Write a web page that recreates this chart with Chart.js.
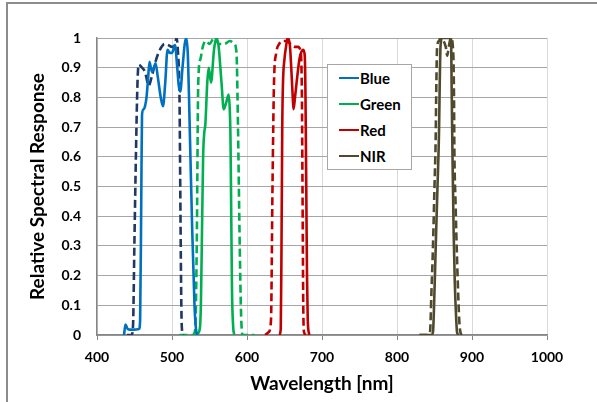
<!DOCTYPE html>
<html>
<head>
<meta charset="utf-8">
<script src="https://cdn.jsdelivr.net/npm/chart.js@4.4.1/dist/chart.umd.min.js"></script>
<style>
  body { margin: 0; background: #fff; }
  #wrap { position: relative; width: 597px; height: 402px; overflow: hidden; }
  #frame { position: absolute; left: 6px; top: 2px; width: 700px; height: 500px;
           border-left: 2px solid #8c8c8c; border-top: 2px solid #8c8c8c; }
  #chart { position: absolute; left: 0; top: 0; }
  #legend { position: absolute; left: 327px; top: 64px; width: 85px; height: 106px;
            background: #fff; border: 1px solid #a6a6a6; box-sizing: border-box;
            font: bold 15px Lato, sans-serif; color: #000; }
  .row { position: absolute; left: 0; height: 20px; display: flex; align-items: center; }
  .sw { width: 20px; height: 2.5px; margin-left: 11px; margin-right: 1px; }
</style>
</head>
<body>
<div id="wrap">
  <div id="frame"></div>
  <canvas id="chart" width="597" height="402"></canvas>
  <div id="legend"></div>
</div>
<script>
// tick labels
const xTickLabels = ['400', '500', '600', '700', '800', '900', '1000'];
const yTickLabels = ['0', '0.1', '0.2', '0.3', '0.4', '0.5', '0.6', '0.7', '0.8', '0.9', '1'];

// series names (legend shows the solid curves only)
const bandNames = ['Blue', 'Green', 'Red', 'NIR'];

// Blue
const blueWl = [436, 438, 441, 444, 450, 456, 457.5, 459, 460, 462, 464, 466, 468, 470, 473, 476, 478, 481, 485, 488, 491, 494, 497, 500, 504, 507, 509, 511, 514, 517, 519, 521, 522.5, 524, 527, 530, 532, 534];
const blueResp = [0, 0.035, 0.02, 0.018, 0.018, 0.02, 0.05, 0.45, 0.74, 0.76, 0.77, 0.8, 0.86, 0.92, 0.887, 0.9, 0.915, 0.87, 0.8, 0.77, 0.85, 0.96, 0.95, 0.95, 0.976, 0.9, 0.84, 0.82, 0.9, 0.98, 1.0, 0.95, 0.82, 0.66, 0.35, 0.1, 0.02, 0];
const blueDashWl = [440, 446, 448, 450, 452, 454, 455.5, 460, 464, 469, 473, 478, 482, 486, 490, 495, 500, 504, 506, 508, 510, 511, 512, 513, 515];
const blueDashResp = [0, 0, 0.03, 0.33, 0.62, 0.85, 0.91, 0.9, 0.886, 0.84, 0.87, 0.92, 0.95, 0.97, 0.98, 0.976, 0.97, 0.98, 1.0, 0.95, 0.8, 0.5, 0.2, 0.03, 0];

// Green
const greenWl = [528, 534, 537, 538.5, 540, 541.5, 543, 544.5, 547, 549, 552, 556, 559, 562, 566, 569, 572, 575.5, 577, 578, 579, 580, 581.5, 583];
const greenResp = [0, 0.005, 0.02, 0.1, 0.35, 0.6, 0.68, 0.71, 0.85, 0.9, 0.85, 0.96, 1.0, 0.975, 0.85, 0.76, 0.78, 0.81, 0.76, 0.66, 0.4, 0.15, 0.03, 0];
const greenDashWl = [510, 528, 531, 533, 535, 538, 541, 545, 550, 556, 563, 570, 577, 583, 586, 588, 590, 592, 594, 610];
const greenDashResp = [0, 0, 0.02, 0.3, 0.85, 0.93, 0.97, 0.99, 0.98, 1.0, 0.98, 0.98, 0.99, 0.98, 0.95, 0.7, 0.35, 0.08, 0, 0];

// Red
const redWl = [643, 645, 646, 647, 648, 650, 652, 654, 657, 659, 661, 662, 664, 667, 670, 672, 675, 677, 678, 679, 680, 681, 683];
const redResp = [0, 0.02, 0.3, 0.7, 0.85, 0.93, 0.97, 1.0, 0.98, 0.9, 0.8, 0.76, 0.8, 0.87, 0.93, 0.95, 0.96, 0.94, 0.8, 0.5, 0.2, 0.05, 0];
const redDashWl = [624, 629, 632, 634, 636, 639, 643, 647, 652, 658, 663, 668, 671, 673, 674, 675, 676, 679];
const redDashResp = [0, 0.01, 0.05, 0.5, 0.85, 0.95, 0.98, 0.99, 0.99, 0.98, 0.97, 0.97, 0.96, 0.85, 0.5, 0.1, 0.01, 0];

// NIR
const nirWl = [830, 846, 848, 850, 852, 854, 856, 857, 858, 860, 866, 872, 873, 874, 875.5, 877, 879, 880, 882];
const nirResp = [0, 0, 0.01, 0.15, 0.33, 0.5, 0.68, 0.85, 0.97, 1.0, 1.0, 1.0, 0.8, 0.6, 0.35, 0.18, 0.05, 0.01, 0];
const nirDashWl = [830, 840, 844, 846, 848, 850, 851.5, 852.5, 853.5, 856, 858, 862, 865, 867, 869, 872, 875, 876, 876.5, 878, 879, 881, 883, 884.5, 886];
const nirDashResp = [0, 0, 0.01, 0.15, 0.3, 0.5, 0.65, 0.85, 0.97, 0.99, 1.0, 0.99, 0.97, 0.94, 0.97, 1.0, 0.95, 0.8, 0.62, 0.45, 0.35, 0.18, 0.05, 0.01, 0];

const colors = { Blue: '#0070C0', BlueDash: '#1F3864', Green: '#00B050', Red: '#C00000', NIR: '#4F4A2E' };

function pts(xs, ys) {
  return xs.map((x, i) => ({ x: x, y: ys[i] }));
}

function line(label, xs, ys, color, dashed) {
  return {
    label: label,
    data: pts(xs, ys),
    borderColor: color,
    borderWidth: 2.6,
    borderDash: dashed ? [8, 4] : [],
    pointRadius: 0,
    fill: false,
    cubicInterpolationMode: 'monotone'
  };
}

const datasets = [
  line('Blue', blueWl, blueResp, colors.Blue, false),
  line('Blue (dashed)', blueDashWl, blueDashResp, colors.BlueDash, true),
  line('Green', greenWl, greenResp, colors.Green, false),
  line('Green (dashed)', greenDashWl, greenDashResp, colors.Green, true),
  line('Red', redWl, redResp, colors.Red, false),
  line('Red (dashed)', redDashWl, redDashResp, colors.Red, true),
  line('NIR', nirWl, nirResp, colors.NIR, false),
  line('NIR (dashed)', nirDashWl, nirDashResp, colors.NIR, true)
];

const tickFont = { family: 'Lato', weight: 'bold', size: 14 };
const titleFont = { family: 'Lato', weight: 'bold', size: 19 };

new Chart(document.getElementById('chart').getContext('2d'), {
  type: 'line',
  data: { datasets: datasets },
  options: {
    responsive: false,
    animation: false,
    layout: { padding: { top: 38, right: 50, left: 0, bottom: 0 } },
    plugins: { legend: { display: false }, tooltip: { enabled: false } },
    scales: {
      x: {
        type: 'linear', min: 400, max: 1000,
        ticks: { stepSize: 100, padding: 9, color: '#000', font: tickFont, maxRotation: 0,
                 callback: (v, i) => xTickLabels[i] },
        grid: { color: '#D9D9D9', tickColor: '#868686', tickLength: 5 },
        border: { color: '#868686', width: 1.5 },
        title: { display: true, text: 'Wavelength [nm]', color: '#000', font: titleFont, padding: { top: 0, bottom: 7 } },
        afterFit: s => { s.height = 67; }
      },
      y: {
        min: 0, max: 1,
        ticks: { stepSize: 0.1, padding: 16, color: '#000', font: tickFont,
                 callback: (v, i) => yTickLabels[i] },
        grid: { color: '#A6A6A6', drawTicks: false },
        border: { color: '#868686', width: 1.5 },
        title: { display: true, text: 'Relative Spectral Response', color: '#000', font: titleFont, padding: { top: 26, bottom: 0 } },
        afterFit: s => { s.width = 97; }
      }
    }
  }
});

// legend box inside the plot, solid series only
const legend = document.getElementById('legend');
bandNames.forEach((name, i) => {
  const row = document.createElement('div');
  row.className = 'row';
  row.style.top = (3 + i * 26) + 'px';
  row.innerHTML = '<span class="sw" style="background:' + colors[name] + '"></span><span>' + name + '</span>';
  legend.appendChild(row);
});
</script>
</body>
</html>
